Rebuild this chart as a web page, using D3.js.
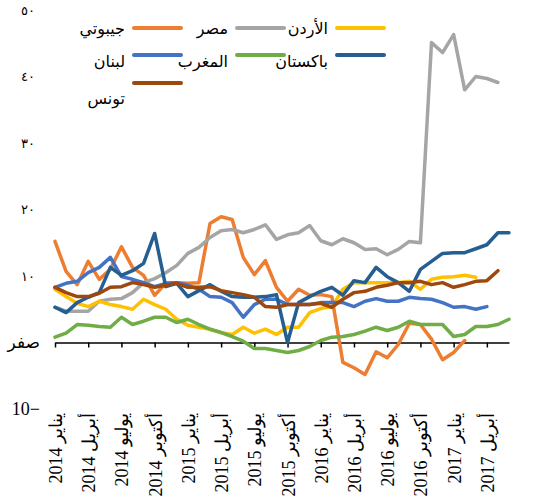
<!DOCTYPE html>
<meta charset="utf-8">
<style>
body { margin: 0; background: #fff; }
.line { fill: none; stroke-width: 3.5px; stroke-linejoin: round; stroke-linecap: round; }
.axis--x path, .axis--x line { stroke: #000; stroke-width: 1.5px; }
.axis--y path, .axis--y line { display: none; }
</style>
<svg width="541" height="502"></svg>
<script src="https://d3js.org/d3.v5.min.js"></script>
<script>

// monthly series, Jan 2014 onwards
var djibouti = [15.2, 10.7, 8.7, 12.2, 9.5, 11.0, 14.4, 11.3, 10.1, 7.1, 8.9, 9.0, 8.9, 9.0, 17.9, 18.9, 18.5, 12.8, 10.2, 12.3, 8.3, 6.2, 8.0, 7.1, 7.2, 6.9, -3.0, -3.8, -4.8, -1.4, -2.3, -0.3, 2.9, 2.7, 0.5, -2.6, -1.5, 0.3];
var egypt = [5.3, 4.7, 4.7, 4.7, 6.2, 6.5, 6.6, 7.5, 9.0, 9.6, 10.5, 11.6, 13.4, 14.3, 15.8, 16.8, 17.0, 16.5, 17.0, 17.7, 15.5, 16.2, 16.5, 17.6, 15.3, 14.7, 15.6, 15.0, 14.0, 14.1, 13.2, 14.0, 15.2, 15.0, 45.1, 43.6, 46.3, 38.0, 40.0, 39.7, 39.1];
var jordan = [8.0, 6.9, 5.9, 5.4, 6.2, 5.7, 5.4, 5.0, 6.5, 5.7, 5.0, 3.5, 2.6, 2.3, 2.0, 1.5, 1.2, 2.3, 1.4, 2.0, 1.2, 2.3, 2.3, 4.5, 5.1, 5.4, 8.0, 9.0, 9.0, 9.0, 9.0, 9.0, 9.2, 8.0, 9.5, 9.8, 9.9, 10.1, 9.8];
var lebanon = [8.3, 8.9, 9.2, 10.5, 11.3, 12.8, 9.9, 9.5, 9.0, 8.4, 8.9, 9.0, 8.6, 8.0, 6.9, 6.8, 6.0, 3.8, 5.7, 6.5, 6.5, 5.7, 5.7, 5.7, 6.0, 6.0, 6.0, 5.4, 6.2, 6.6, 6.2, 6.2, 6.8, 6.6, 6.5, 6.0, 5.3, 5.4, 5.0, 5.4];
var morocco = [0.8, 1.4, 2.7, 2.6, 2.4, 2.3, 3.8, 2.7, 3.2, 3.8, 3.8, 3.0, 3.5, 2.7, 2.0, 1.5, 0.9, 0.2, -0.9, -0.9, -1.2, -1.5, -1.2, -0.6, 0.3, 0.8, 0.9, 1.2, 1.7, 2.3, 1.8, 2.3, 3.2, 2.7, 2.7, 2.7, 0.9, 1.2, 2.4, 2.4, 2.7, 3.5];
var pakistan = [5.3, 4.5, 6.0, 6.8, 7.5, 11.3, 10.1, 10.8, 11.9, 16.4, 8.4, 8.9, 6.9, 7.8, 8.7, 7.7, 6.9, 6.8, 6.8, 6.9, 7.2, 0.0, 6.0, 6.9, 7.7, 8.3, 7.1, 9.3, 9.0, 11.3, 9.9, 9.0, 7.7, 11.0, 12.2, 13.4, 13.5, 13.5, 14.1, 14.7, 16.5, 16.5];
var tunisia = [8.3, 7.5, 6.9, 6.9, 7.4, 8.3, 8.4, 9.0, 8.7, 8.3, 8.6, 8.9, 8.3, 8.3, 8.4, 7.8, 7.5, 7.2, 6.8, 5.4, 5.3, 5.7, 5.7, 5.7, 5.9, 5.3, 6.5, 7.5, 7.7, 8.3, 8.6, 9.0, 9.0, 9.2, 8.7, 9.0, 8.3, 8.7, 9.2, 9.3, 10.8];

var names = ["جيبوتي", "مصر", "الأردن", "لبنان", "المغرب", "باكستان", "تونس"];
var colors = ["#ED7D31", "#A5A5A5", "#FFC000", "#4472C4", "#70AD47", "#255E91", "#9E480E"];
var seriesValues = [djibouti, egypt, jordan, lebanon, morocco, pakistan, tunisia];

var monthCount = 42;
var tickMonths = [0, 3, 6, 9, 12, 15, 18, 21, 24, 27, 30, 33, 36, 39];
var tickLabels = ["يناير 2014", "أبريل 2014", "يوليو 2014", "أكتوبر 2014",
  "يناير 2015", "أبريل 2015", "يوليو 2015", "أكتوبر 2015",
  "يناير 2016", "أبريل 2016", "يوليو 2016", "أكتوبر 2016",
  "يناير 2017", "أبريل 2017"];
var yTicks = [50, 40, 30, 20, 10, 0, -10];
var yLabels = ["٥٠", "٤٠", "٣٠", "٢٠", "١٠", "صفر", "10−"];

var svg = d3.select("svg");

var x = d3.scaleLinear().domain([0, monthCount - 1]).range([55, 509]),
    y = d3.scaleLinear().domain([-10, 50]).range([409, 10]);

// x axis at zero
var xAxis = svg.append("g")
    .attr("class", "axis axis--x")
    .attr("transform", "translate(0," + y(0) + ")")
    .call(d3.axisBottom(x).tickValues(tickMonths).tickSize(5).tickSizeOuter(0).tickFormat(""));

// rotated month labels
svg.append("g").selectAll("text")
  .data(tickMonths)
  .enter().append("text")
    .attr("transform", function(d) { return "translate(" + (x(d) + 7) + ",413) rotate(-90)"; })
    .attr("text-anchor", "end")
    .style("font", "18px 'Liberation Serif', serif")
    .text(function(d, i) {
      var parts = tickLabels[i].split(" ");
      return parts[1] + " " + parts[0];
    });

// y axis labels
var yAxis = svg.append("g")
    .attr("class", "axis axis--y")
    .attr("transform", "translate(40,0)")
    .call(d3.axisLeft(y).tickValues(yTicks).tickSize(0).tickPadding(0)
      .tickFormat(function(d) { return yLabels[yTicks.indexOf(d)]; }));

yAxis.selectAll("text")
    .attr("fill", "#000")
    .style("font-family", "'Liberation Serif', 'DejaVu Sans', serif")
    .style("font-size", function(d) { return d === 0 ? "17px" : (d === -10 ? "18px" : "13px"); })
    .attr("dx", function(d) { return (d === 0 || d === -10) ? 0 : -5; });

// lines
var line = d3.line()
    .x(function(d, i) { return x(i); })
    .y(function(d) { return y(d); });

svg.append("g").selectAll("path")
  .data(seriesValues)
  .enter().append("path")
    .attr("class", "line")
    .attr("d", line)
    .style("stroke", function(d, i) { return colors[i]; });

// legend: three columns, text to the left of its line
var legendCols = [125, 228, 328],
    legendRows = [28, 55, 83],
    legendTextY = [28, 61, 98];

var legend = svg.append("g").selectAll("g")
  .data(names)
  .enter().append("g");

legend.append("line")
    .attr("x1", function(d, i) { return legendCols[i % 3] + 9; })
    .attr("x2", function(d, i) { return legendCols[i % 3] + 56; })
    .attr("y1", function(d, i) { return legendRows[Math.floor(i / 3)]; })
    .attr("y2", function(d, i) { return legendRows[Math.floor(i / 3)]; })
    .style("stroke", function(d, i) { return colors[i]; })
    .style("stroke-width", "4px")
    .style("stroke-linecap", "round");

legend.append("text")
    .attr("x", function(d, i) { return legendCols[i % 3]; })
    .attr("y", function(d, i) { return legendTextY[Math.floor(i / 3)]; })
    .attr("dy", "0.35em")
    .attr("text-anchor", "end")
    .style("font", "16px 'DejaVu Sans', sans-serif")
    .text(function(d) { return d; });

</script>
